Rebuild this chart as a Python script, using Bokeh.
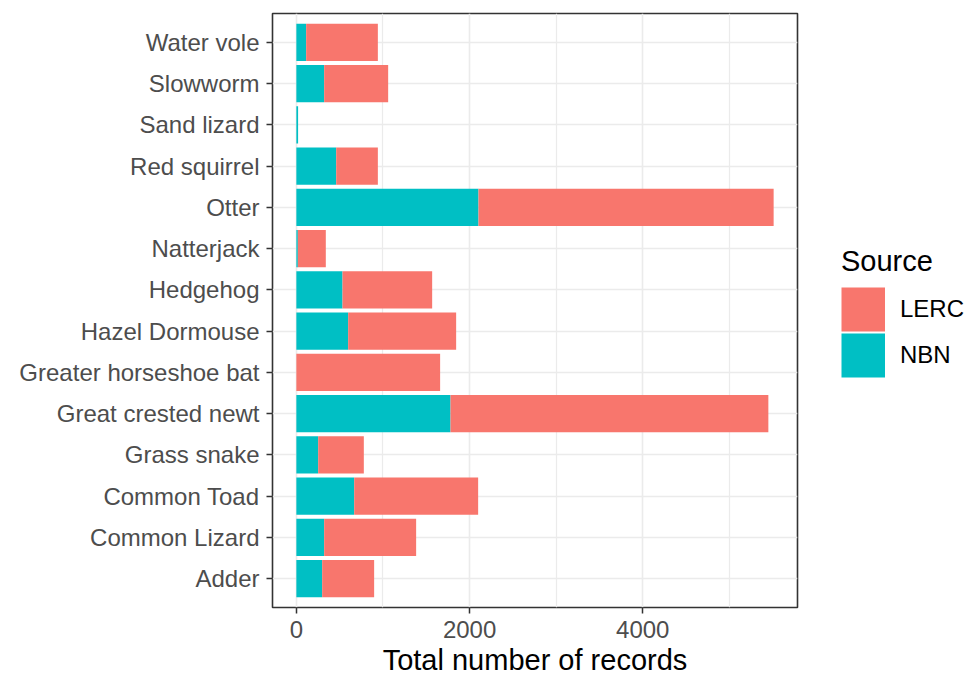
from bokeh.plotting import figure
from bokeh.layouts import row
from bokeh.models import ColumnDataSource, FactorRange, Range1d, FixedTicker, Legend, LegendItem
from bokeh.embed import file_html
from bokeh.resources import INLINE

# ---- data ----
species = ["Adder", "Common Lizard", "Common Toad", "Grass snake",
           "Great crested newt", "Greater horseshoe bat", "Hazel Dormouse",
           "Hedgehog", "Natterjack", "Otter", "Red squirrel", "Sand lizard",
           "Slowworm", "Water vole"]
nbn = [298, 321, 668, 252, 1780, 0, 598, 533, 17, 2103, 460, 20, 321, 113]
lerc = [600, 1062, 1431, 527, 3670, 1660, 1247, 1035, 323, 3408, 481, 0, 739, 828]
sources = ["NBN", "LERC"]
legend_order = ["LERC", "NBN"]
source_colors = {"LERC": "#F8766D", "NBN": "#00BFC4"}
x_ticks = [0, 2000, 4000]
x_minor_ticks = [1000, 3000, 5000]
x_title = "Total number of records"
legend_title = "Source"

FONT = "Liberation Sans"

src = ColumnDataSource(dict(species=species, NBN=nbn, LERC=lerc))

totals = [a + b for a, b in zip(nbn, lerc)]
lo, hi = 0, max(totals)
pad = (hi - lo) * 0.05

p = figure(width=835, height=682,
           y_range=FactorRange(factors=species, range_padding=0.2,
                               range_padding_units="absolute"),
           x_range=Range1d(lo - pad, hi + pad),
           output_backend="svg", toolbar_location=None,
           min_border_left=272, min_border_right=38,
           min_border_top=13, min_border_bottom=75)

rs = p.hbar_stack(sources, y="species", height=0.9, source=src,
                  fill_color=[source_colors[s] for s in sources],
                  line_color=None)

# frame / background
p.background_fill_color = "white"
p.border_fill_color = "white"
p.outline_line_color = "#333333"
p.outline_line_width = 1.6

# grids
p.xaxis.ticker = FixedTicker(ticks=x_ticks, minor_ticks=x_minor_ticks)
p.xgrid.grid_line_color = "#EBEBEB"
p.xgrid.grid_line_width = 1.6
p.xgrid.minor_grid_line_color = "#EBEBEB"
p.xgrid.minor_grid_line_width = 1.2
p.ygrid.grid_line_color = "#EBEBEB"
p.ygrid.grid_line_width = 1.6

# axes
for ax in (p.xaxis, p.yaxis):
    ax.axis_line_color = None
    ax.major_tick_line_color = "#333333"
    ax.major_tick_line_width = 1.5
    ax.major_tick_out = 6
    ax.major_tick_in = 0
    ax.minor_tick_line_color = None
    ax.major_label_text_font = FONT
    ax.major_label_text_font_size = "24px"
    ax.major_label_text_color = "#4D4D4D"

p.yaxis.major_label_standoff = 7
p.xaxis.major_label_standoff = 7
p.xaxis.axis_label = x_title
p.xaxis.axis_label_text_font = FONT
p.xaxis.axis_label_text_font_size = "29px"
p.xaxis.axis_label_text_font_style = "normal"
p.xaxis.axis_label_text_color = "black"
p.xaxis.axis_label_standoff = 3

# ---- legend panel (separate figure to the right) ----
pl = figure(width=133, height=682, x_range=p.x_range, y_range=p.y_range,
            output_backend="svg", toolbar_location=None,
            min_border_left=0, min_border_right=0,
            min_border_top=0, min_border_bottom=0)
pl.axis.visible = False
pl.grid.visible = False
pl.outline_line_color = None
pl.background_fill_color = "white"
pl.border_fill_color = "white"

# hidden thick butt-capped lines act as full square legend keys
key_r = {s: pl.line(s, "species", source=src, line_width=44, line_cap="butt",
                    line_color=source_colors[s], visible=False)
         for s in legend_order}

items = [LegendItem(label=s, renderers=[key_r[s]]) for s in legend_order]
legend = Legend(items=items, location=(6, 229), title=legend_title,
                title_text_font=FONT, title_text_font_size="29px",
                title_text_font_style="normal", title_text_color="black",
                label_text_font=FONT, label_text_font_size="24px",
                label_text_color="black",
                glyph_width=44, glyph_height=46, label_height=46,
                spacing=0, padding=0, margin=0, label_standoff=15,
                title_standoff=8, border_line_color=None,
                background_fill_alpha=0)
pl.add_layout(legend, "center")

layout = row(p, pl)
open("out.html", "w").write(file_html(layout, INLINE))
